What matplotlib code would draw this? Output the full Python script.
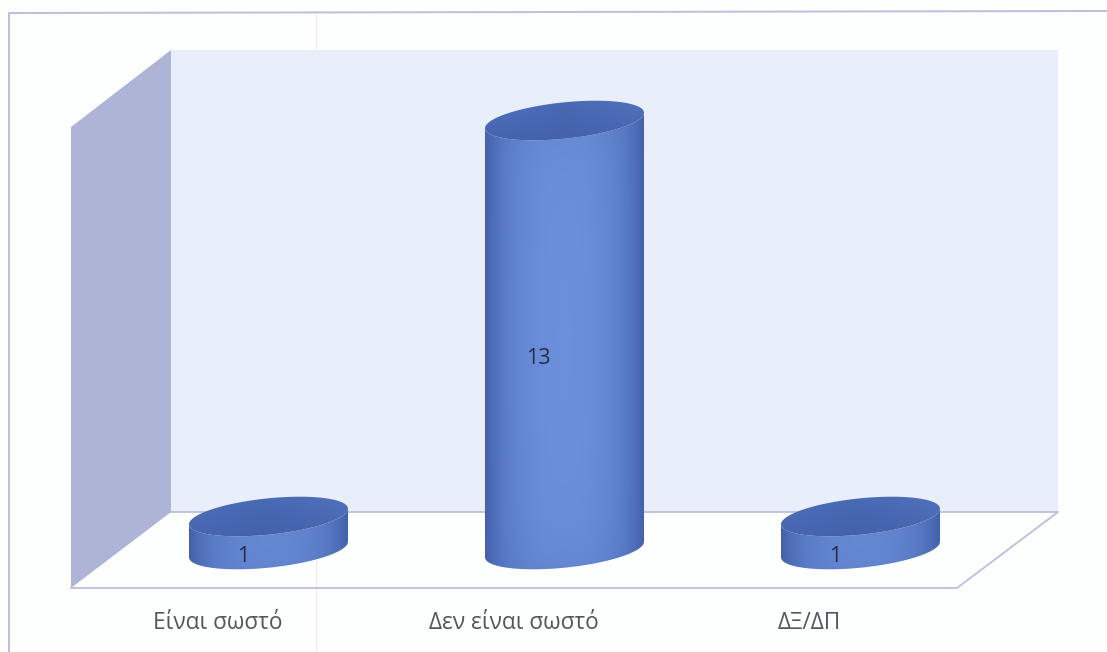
import matplotlib
matplotlib.use("Agg")
import matplotlib.pyplot as plt
import numpy as np
from matplotlib.patches import Polygon
from matplotlib.transforms import Affine2D
from matplotlib.colors import LinearSegmentedColormap

plt.rcParams['font.family'] = ['Open Sans', 'DejaVu Sans']

categories = ['Είναι σωστό', 'Δεν είναι σωστό', 'ΔΞ/ΔΠ']
values = [1, 13, 1]

W, H = 1107, 652
X0, X_STEP = 268.5, 296.0   # pixel of first category, pixels per category
Y0, Y_STEP = 549.5, 33.0    # pixel of value 0, pixels per unit

side_cmap = LinearSegmentedColormap.from_list('side', ['#4462ab', '#5a7cc6', '#6c8fdb'])
top_cmap = LinearSegmentedColormap.from_list('top', ['#3f5fa6', '#4867b2', '#5475c2'])


def ellipse_xy(cx, cy, t):
    # ellipse of the cylinder, sheared because of the chart rotation
    a, b, s = 79.5 / X_STEP, 18.2 / Y_STEP, 0.098 * X_STEP / Y_STEP
    return cx + a * np.cos(t), cy + s * a * np.cos(t) + b * np.sin(t)


def draw_cylinder(ax, cx, value):
    a = 79.5 / X_STEP
    # outline of the side: front half of the bottom, back along the front half of the top
    t = np.linspace(np.pi, 2 * np.pi, 80)
    bx, by = ellipse_xy(cx, 0, t)
    tx, ty = ellipse_xy(cx, value, t[::-1])
    side_patch = Polygon(np.column_stack([np.r_[bx, tx], np.r_[by, ty]]), closed=True,
                         fc='none', ec='none', transform=ax.transData)
    ax.add_patch(side_patch)

    u = np.linspace(-1, 1, 200)
    shade = 1 - np.abs(u) ** 2.6
    y_lo, y_hi = -0.7, value + 0.7
    v = np.linspace(y_lo, y_hi, 240)
    dist_top = (y_hi - v) * Y_STEP
    dist_bottom = (v - y_lo) * Y_STEP
    fade = (1 - 0.35 * np.exp(-dist_top / 40)) * (1 - 0.25 * np.exp(-dist_bottom / 40))
    img = np.outer(fade, shade)
    im = ax.imshow(img, origin='lower', aspect='auto', cmap=side_cmap, vmin=0, vmax=1,
                   extent=(cx - a, cx + a, y_lo, y_hi), interpolation='bilinear', zorder=3)
    im.set_clip_path(side_patch)

    # top face
    t = np.linspace(0, 2 * np.pi, 160)
    ex, ey = ellipse_xy(cx, value, t)
    top_patch = Polygon(np.column_stack([ex, ey]), closed=True, fc='none', ec='none',
                        transform=ax.transData)
    ax.add_patch(top_patch)
    grad = np.outer(np.linspace(0.15, 0.65, 60), np.ones(60)) + 0.25 * np.outer(np.ones(60), np.abs(np.linspace(-1, 1, 60)))
    im2 = ax.imshow(grad, origin='lower', aspect='auto', cmap=top_cmap, vmin=0, vmax=1,
                    extent=(cx - a, cx + a, value - 0.7, value + 0.7), interpolation='bilinear', zorder=4)
    im2.set_clip_path(top_patch)


fig = plt.figure(figsize=(W / 100, H / 100), dpi=100, facecolor='#fdfefe')
ax = fig.add_axes([0, 0, 1, 1])
ax.axis('off')

# pixel coordinates for the chart box, y going down
px = Affine2D().scale(1, -1).translate(0, H)
line_col = '#bcbede'

ax.add_patch(Polygon([(171, 50), (1058, 50), (1058, 512), (171, 512)], fc='#e9eefb', ec='none', transform=px, zorder=1))
ax.add_patch(Polygon([(171, 50), (71, 127), (71, 588), (171, 512)], fc='#aeb4d6', ec='none', transform=px, zorder=1))
ax.plot([171, 1058, 957, 71], [512, 512, 588, 588], color=line_col, lw=1.3, transform=px, zorder=2)
ax.plot([9, 9, 1107], [652, 13, 11], color=line_col, lw=1.4, transform=px, zorder=2)
ax.plot([316, 316], [14, 652], color='#f6e9f6', lw=0.8, transform=px, zorder=0)

xs = np.arange(len(categories))
for x, val in zip(xs, values):
    draw_cylinder(ax, x, val)

ax.set_xlim(-X0 / X_STEP, (W - X0) / X_STEP)
ax.set_ylim(-(H - Y0) / Y_STEP, Y0 / Y_STEP)

# value labels sit left of the centre, a bit under the middle of the column
for x, val in zip(xs, values):
    ax.text(x - 0.087, val / 2 - 0.7, str(val), ha='center', va='center',
            fontsize=15.5, color='#262c42', zorder=6)

for x, cat in zip(xs, categories):
    ax.text(x - 0.172, -2.23, cat, ha='center', va='center', fontsize=16.3, color='#55565c', zorder=6)

fig.savefig('out.png', dpi=100, facecolor=fig.get_facecolor())
